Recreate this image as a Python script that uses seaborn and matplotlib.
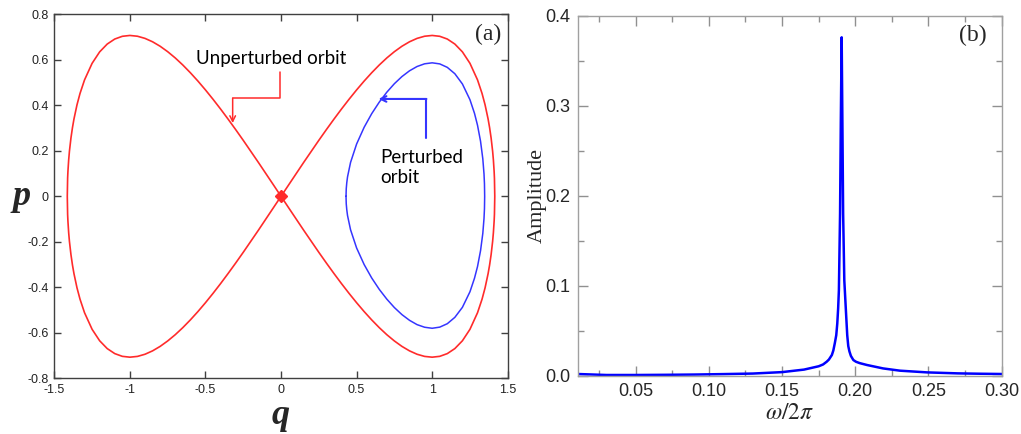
import numpy as np
import pandas as pd
import matplotlib
matplotlib.use("Agg")
import matplotlib.pyplot as plt
from matplotlib.ticker import MultipleLocator, FuncFormatter
import seaborn as sns

# ---- (a) phase portrait: separatrix quarter (q >= 0, p >= 0) ----
sep_q = [0.0, 0.05, 0.1, 0.15, 0.2, 0.25, 0.3, 0.35, 0.4, 0.45, 0.5, 0.55, 0.6,
         0.65, 0.7, 0.75, 0.8, 0.85, 0.9, 0.95, 1.0, 1.05, 1.1, 1.15, 1.2, 1.25,
         1.3, 1.33, 1.35, 1.37, 1.38, 1.39, 1.40, 1.405, 1.41, 1.412, 1.4142]
sep_p = [0.0, 0.050, 0.0998, 0.1492, 0.198, 0.2461, 0.2932, 0.3391, 0.3837,
         0.4266, 0.4677, 0.5067, 0.5433, 0.5773, 0.6083, 0.6358, 0.6597, 0.6793,
         0.6942, 0.7037, 0.7071, 0.7034, 0.6914, 0.6693, 0.6350, 0.5846, 0.5118,
         0.4521, 0.4022, 0.3399, 0.3017, 0.256, 0.198, 0.160, 0.1088, 0.079, 0.0]

# perturbed orbit around the right well
orb_q = [0.43, 0.4315, 0.435, 0.44, 0.46, 0.5, 0.55, 0.6, 0.65, 0.7, 0.75, 0.8,
         0.85, 0.9, 0.95, 1.0, 1.05, 1.1, 1.15, 1.2, 1.25, 1.28, 1.3, 1.32,
         1.335, 1.343, 1.346, 1.3473]
orb_p_upper = [0.0, 0.033, 0.060, 0.0855, 0.149, 0.2298, 0.3036, 0.3634, 0.4141,
               0.4577, 0.4951, 0.5264, 0.5517, 0.5706, 0.5825, 0.5868, 0.5821,
               0.5669, 0.5389, 0.4939, 0.4246, 0.3648, 0.3124, 0.2422, 0.165,
               0.098, 0.055, 0.0]
orb_p_lower = [0.0, -0.033, -0.059, -0.0845, -0.147, -0.227, -0.300, -0.359,
               -0.409, -0.452, -0.489, -0.520, -0.545, -0.564, -0.5755, -0.580,
               -0.575, -0.560, -0.532, -0.488, -0.4195, -0.360, -0.3087, -0.239,
               -0.163, -0.097, -0.054, 0.0]

# ---- (b) amplitude spectrum ----
freq = [0.0104, 0.03, 0.05, 0.07, 0.09, 0.11, 0.13, 0.15, 0.165, 0.175, 0.178,
        0.1805, 0.182, 0.184, 0.185, 0.186, 0.187, 0.1877, 0.1883, 0.1888,
        0.1896, 0.1901, 0.1907, 0.1912, 0.1917, 0.1925, 0.1937, 0.1945, 0.1952,
        0.196, 0.197, 0.1987, 0.2005, 0.203, 0.208, 0.219, 0.2305, 0.249,
        0.27, 0.285, 0.30]
amp = [0.0019, 0.0008, 0.0008, 0.0010, 0.0013, 0.0018, 0.0024, 0.0040, 0.0068,
       0.0105, 0.0125, 0.0156, 0.018, 0.023, 0.028, 0.036, 0.045, 0.058, 0.075,
       0.095, 0.18, 0.28, 0.376, 0.28, 0.18, 0.106, 0.069, 0.045, 0.033, 0.027,
       0.022, 0.0174, 0.0155, 0.014, 0.0119, 0.0081, 0.0056, 0.0037, 0.0026,
       0.0022, 0.0019]

sns.set_style("ticks")
plt.rcParams["axes.unicode_minus"] = False
plt.rcParams["mathtext.fontset"] = "stix"
plt.rcParams["font.family"] = ["Liberation Sans", "DejaVu Sans"]

fig = plt.figure(figsize=(10.21, 4.34), dpi=100)
ax1 = fig.add_axes([0.0532, 0.1283, 0.4441, 0.8387])
ax2 = fig.add_axes([0.5658, 0.1343, 0.4153, 0.8295])

# closed figure-eight path built from the quarter branch
q = np.asarray(sep_q)
p = np.asarray(sep_p)
sep = pd.DataFrame({
    "q": np.concatenate([q, q[::-1], -q, -q[::-1]]),
    "p": np.concatenate([p, -p[::-1], -p, p[::-1]]),
})
orb = pd.DataFrame({
    "q": np.concatenate([orb_q, orb_q[::-1]]),
    "p": np.concatenate([orb_p_upper, orb_p_lower[::-1]]),
})

red = "#ff2b2b"
blue = "#3535ff"
sns.lineplot(data=sep, x="q", y="p", sort=False, estimator=None, ax=ax1,
             color=red, lw=1.2)
sns.lineplot(data=orb, x="q", y="p", sort=False, estimator=None, ax=ax1,
             color=blue, lw=1.1)
ax1.plot([0], [0], marker="D", ms=6, color=red, mec=red)

ax1.set_xlim(-1.5, 1.5)
ax1.set_ylim(-0.8, 0.8)
ax1.xaxis.set_major_locator(MultipleLocator(0.5))
ax1.yaxis.set_major_locator(MultipleLocator(0.2))
ax1.xaxis.set_major_formatter(FuncFormatter(lambda v, _: f"{v:g}"))
ax1.yaxis.set_major_formatter(FuncFormatter(lambda v, _: f"{v:g}"))
ax1.tick_params(direction="in", top=True, right=True, length=5, width=1,
                color="#404040", labelsize=9, labelcolor="#222222", pad=4)
for s in ax1.spines.values():
    s.set_color("#404040")
    s.set_linewidth(1.0)
ax1.set_xlabel("q", family="Liberation Serif", style="italic", weight="bold",
               fontsize=26, labelpad=2)
ax1.set_ylabel("p", family="Liberation Serif", style="italic", weight="bold",
               fontsize=26, rotation=0, labelpad=4, va="center")
ax1.text(0.985, 0.975, "(a)", transform=ax1.transAxes, ha="right", va="top",
         family="Liberation Serif", fontsize=17)

# annotations with elbow arrows
ax1.text(-0.56, 0.607, "Unperturbed orbit", family="Lato", fontsize=13.5,
         ha="left", va="center", color="black")
ax1.plot([-0.01, -0.01, -0.32], [0.545, 0.431, 0.431], color=red, lw=1.1)
ax1.annotate("", xy=(-0.32, 0.322), xytext=(-0.32, 0.432),
             arrowprops=dict(arrowstyle="->", color=red, lw=1.1,
                             shrinkA=0, shrinkB=0))
ax1.text(0.655, 0.127, "Perturbed\norbit", family="Lato", fontsize=13.5,
         ha="left", va="center", color="black", linespacing=1.2)
ax1.plot([0.96, 0.96], [0.255, 0.428], color=blue, lw=1.5)
ax1.annotate("", xy=(0.645, 0.428), xytext=(0.962, 0.428),
             arrowprops=dict(arrowstyle="->", color=blue, lw=1.5,
                             shrinkA=0, shrinkB=0))

# spectrum
spec = pd.DataFrame({"freq": freq, "amp": amp})
sns.lineplot(data=spec, x="freq", y="amp", sort=False, estimator=None, ax=ax2,
             color="#0000ff", lw=1.8)
ax2.set_xlim(0.0104, 0.30)
ax2.set_ylim(0.0, 0.4)
ax2.xaxis.set_major_locator(MultipleLocator(0.05))
ax2.xaxis.set_minor_locator(MultipleLocator(0.025))
ax2.yaxis.set_major_locator(MultipleLocator(0.1))
ax2.yaxis.set_minor_locator(MultipleLocator(0.05))
ax2.xaxis.set_major_formatter(FuncFormatter(lambda v, _: f"{v:.2f}"))
ax2.yaxis.set_major_formatter(FuncFormatter(lambda v, _: f"{v:.1f}"))
ax2.tick_params(which="both", direction="in", top=True, right=True,
                color="#909090", width=1)
ax2.tick_params(which="major", length=7, labelsize=13, pad=5)
ax2.tick_params(which="minor", length=4)
for s in ax2.spines.values():
    s.set_color("#a0a0a0")
    s.set_linewidth(1.0)
ax2.set_xlabel(r"$\omega/2\pi$", fontsize=17, labelpad=2)
ax2.set_ylabel("Amplitude", family="Liberation Serif", fontsize=16, labelpad=-1)
ax2.text(0.965, 0.975, "(b)", transform=ax2.transAxes, ha="right", va="top",
         family="Liberation Serif", fontsize=17)

fig.savefig("out.png", dpi=100)
